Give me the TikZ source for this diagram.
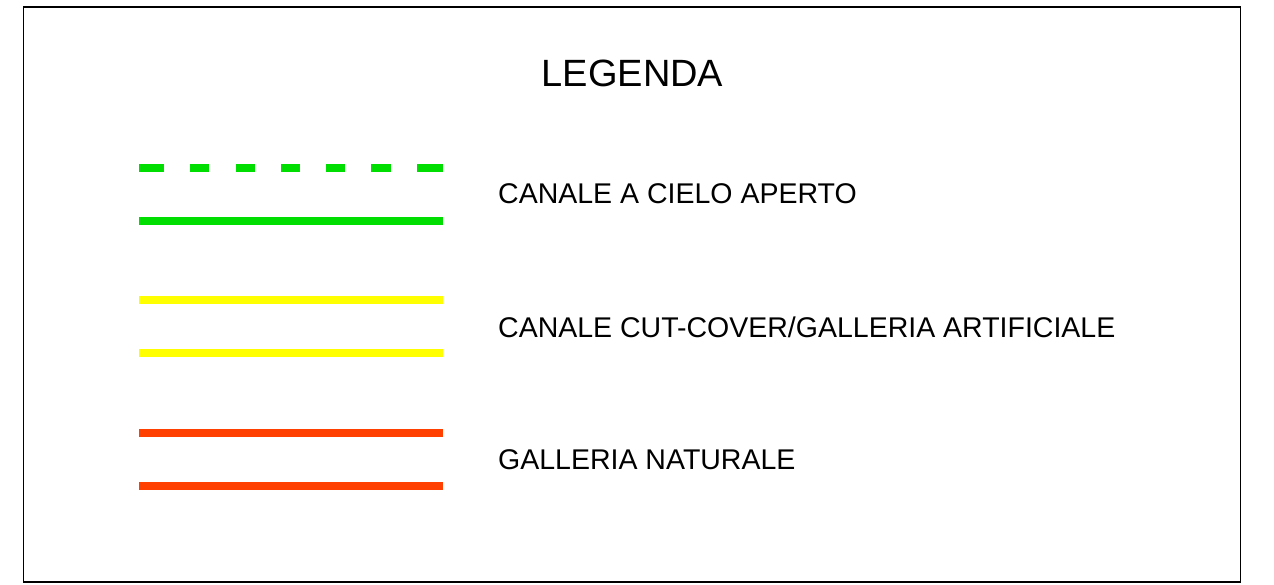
\documentclass[tikz,border=0pt]{standalone}
\usepackage{fontspec}
\setmainfont{Liberation Sans}
\definecolor{lgreen}{RGB}{0,221,0}
\definecolor{lyellow}{RGB}{255,255,0}
\definecolor{lorange}{RGB}{255,64,0}
\begin{document}
\begin{tikzpicture}[x=1pt,y=-1pt,
  legline/.style={line width=8.5pt},
  legtext/.style={anchor=west,inner sep=0pt,font=\fontsize{28.5}{30}\selectfont},
  frame/.style={draw=black,line width=1.3pt}]
\useasboundingbox (0,0) rectangle (1274,585);
\draw[frame] (23.5,7) rectangle (1240.5,582);
\node[inner sep=0pt,font=\fontsize{38}{40}\selectfont] (title) at (632.5,73) {LEGENDA};
% canale a cielo aperto
\foreach \a/\b in {139/164,190/209,236/255,281/300,326/345,371/391,417/443}
  \draw[legline,lgreen] (\a,168) -- (\b,168);
\draw[legline,lgreen] (139,221) -- (443,221);
\node[legtext] (t1) at (498,194) {CANALE A CIELO APERTO};
% cut-cover
\draw[legline,lyellow] (139,300) -- (443,300);
\draw[legline,lyellow] (139,353) -- (443,353);
\node[legtext] (t2) at (498,327) {CANALE CUT-COVER/GALLERIA ARTIFICIALE};
% galleria naturale
\draw[legline,lorange] (139,433) -- (443,433);
\draw[legline,lorange] (139,486) -- (443,486);
\node[legtext] (t3) at (498,460) {GALLERIA NATURALE};
\end{tikzpicture}
\end{document}
